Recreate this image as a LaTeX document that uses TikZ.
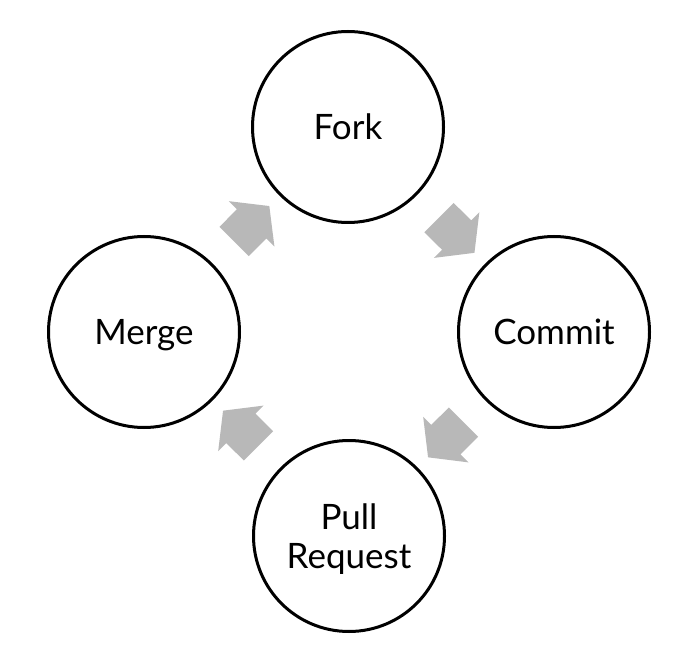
\documentclass[tikz,border=0pt]{standalone}
\usepackage{fontspec}
\setmainfont{Lato}
\usepackage{xcolor}
\usepackage{tikz}
\usetikzlibrary{shapes,arrows,positioning,calc}
\definecolor{flowgray}{RGB}{184,184,184}

\begin{document}
\begin{tikzpicture}[x=1pt, y=1pt,
    stage/.style={circle, draw, line width=3pt, minimum size=191pt, inner sep=0pt,
        align=center, text depth=0pt, font=\fontsize{35}{39}\selectfont},
    flow/.style={single arrow, fill=flowgray, draw=none, sloped, allow upside down,
        inner xsep=0pt, inner ysep=20.5pt, text height=0pt, text depth=0pt,
        minimum height=50pt, single arrow head extend=11.5pt,
        single arrow tip angle=104}]
    \useasboundingbox (0,0) rectangle (698,662);

    % Stages of the cycle
    \node[stage] (fork) at (348,535) {Fork};
    \node[stage] (commit) at (554,330) {Commit};
    \node[stage] (pr) at (349,126) {Pull\\Request};
    \node[stage] (merge) at (144,330) {Merge};

    % Block arrows between the stages
    \path (fork) -- (commit) node[flow, midway] (a1) {};
    \path (commit) -- (pr) node[flow, midway] (a2) {};
    \path (pr) -- (merge) node[flow, midway] (a3) {};
    \path (merge) -- (fork) node[flow, midway] (a4) {};
\end{tikzpicture}
\end{document}
